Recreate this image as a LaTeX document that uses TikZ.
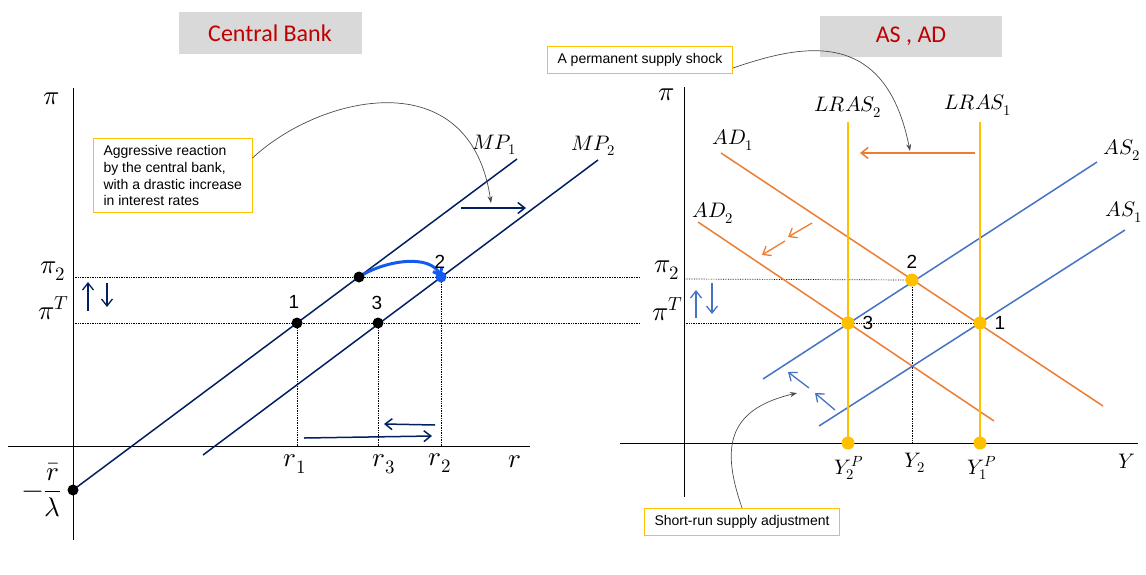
\documentclass[tikz,border=0pt]{standalone}
\usepackage{fontspec}
\usepackage{unicode-math}
\setmainfont{Liberation Sans}
\newfontfamily\titlefont{Carlito}
\usetikzlibrary{arrows.meta}

\definecolor{mpnavy}{RGB}{0,32,96}
\definecolor{movblue}{RGB}{20,90,240}
\definecolor{adorange}{RGB}{237,125,49}
\definecolor{asblue}{RGB}{68,114,196}
\definecolor{lrasgold}{RGB}{255,192,0}
\definecolor{boxgray}{RGB}{217,217,217}
\definecolor{titlered}{RGB}{192,0,0}

\tikzset{
  axis/.style={line width=1pt},
  guide/.style={densely dotted, line width=0.7pt},
  mpline/.style={mpnavy, line width=1.5pt},
  adline/.style={adorange, line width=1.5pt},
  asline/.style={asblue, line width=1.5pt},
  lrasline/.style={lrasgold, line width=1.8pt},
  shiftarrow/.style={line width=1.5pt, -{Straight Barb[length=7pt,width=11pt]}},
  notebox/.style={draw=lrasgold, line width=1pt, fill=white, align=left,
    font=\fontsize{14}{16.7}\selectfont, inner xsep=10pt, inner ysep=7pt},
  titlebox/.style={fill=boxgray, text=titlered, font=\titlefont\fontsize{24}{28}\selectfont},
  mlab/.style={font=\fontsize{21}{25}\selectfont},
  gklab/.style={font=\fontsize{27}{32}\selectfont},
  numlab/.style={font=\fontsize{19}{22}\selectfont},
  pointer/.style={black!70, line width=0.7pt, -{Stealth[length=7pt,width=5pt]}}
}

\begin{document}
\begin{tikzpicture}[x=1pt,y=-1pt]
  \useasboundingbox (0,0) rectangle (1146,574);

  % Central Bank
  \node[titlebox, minimum width=183pt, minimum height=42pt] (cbtitle) at (270,33) {Central Bank};
  \coordinate (cbO) at (73,446);
  \draw[axis] (73,88) -- (73,540);
  \draw[axis] (8,446) -- (530,446);
  \coordinate (mpA) at (73,490);
  \coordinate (mpB) at (517,159);
  \coordinate (mpC) at (203,455);
  \coordinate (mpD) at (598,160);
  \coordinate (cbE) at (359,277);
  \coordinate (cbOne) at (297,323);
  \coordinate (cbThree) at (378,323);
  \coordinate (cbTwo) at (441,277);
  \draw[guide] (73,277) -- (640,277);
  \draw[guide] (73,323) -- (640,323);
  \draw[guide] (cbOne) -- (cbOne |- cbO);
  \draw[guide] (cbThree) -- (cbThree |- cbO);
  \draw[guide] (cbTwo) -- (cbTwo |- cbO);
  \draw[mpline] (mpA) -- (mpB);
  \draw[mpline] (mpC) -- (mpD);
  \node[mlab] (mpone) at (494,145) {$MP_1$};
  \node[mlab] (mptwo) at (593,146) {$MP_2$};
  \coordinate (cbsa) at (461,208);
  \coordinate (cbsb) at (526,208);
  \draw[shiftarrow, mpnavy] (cbsa) -- (cbsb);
  \draw[movblue, line width=3pt, line cap=round, -{Straight Barb[length=6pt,width=10pt]}]
    (cbE) .. controls (385,260) and (430,254) .. (cbTwo);
  \fill (mpA) circle (5.5pt);
  \fill (cbE) circle (5.5pt);
  \fill (cbOne) circle (5.5pt);
  \fill (cbThree) circle (5.5pt);
  \fill[movblue] (cbTwo) circle (5.5pt);
  \node[numlab] (cbnone) at (294,302) {1};
  \node[numlab] (cbnthree) at (377,303) {3};
  \node[numlab] (cbntwo) at (440,262) {2};
  \node[gklab] (cbpi) at (52,99) {$\pi$};
  \node[gklab] (cbpitwo) at (53,271) {$\pi_2$};
  \node[gklab] (cbpit) at (54,308) {$\pi^T$};
  \node[gklab] (cbint) at (42,490) {$\displaystyle -\frac{\bar r}{\lambda}$};
  \draw[shiftarrow, mpnavy, line width=1.3pt] (88,311) -- (88,282);
  \draw[shiftarrow, mpnavy, line width=1.3pt] (107,283) -- (107,307);
  \node[gklab] (rone) at (295,464) {$r_1$};
  \node[gklab] (rthree) at (384,464) {$r_3$};
  \node[gklab] (rtwo) at (440,463) {$r_2$};
  \node[gklab] (rax) at (515,462) {$r$};
  \draw[shiftarrow, mpnavy] (304,438) -- (432,436);
  \draw[shiftarrow, mpnavy] (435,425) -- (384,424);
  \node[notebox, anchor=north west] (cbnote) at (93,138)
    {Aggressive reaction\\by the central bank,\\with a drastic increase\\in interest rates};
  \coordinate (cbaim) at (491,203);
  \draw[pointer] ([yshift=-20pt]cbnote.north east) .. controls (320,95) and (470,60) .. (cbaim);

  % AS, AD
  \node[titlebox, minimum width=182pt, minimum height=41pt] (adtitle) at (911,36) {AS , AD};
  \coordinate (adO) at (684,443);
  \draw[axis] (684,87) -- (684,497);
  \draw[axis] (620,443) -- (1138,443);
  \coordinate (adOne) at (980,323);
  \coordinate (adTwo) at (912,280);
  \coordinate (adThree) at (848,323);
  \draw[guide] (684,279) -- (adTwo);
  \draw[guide] (684,323) -- (adOne);
  \draw[guide] (adTwo) -- (adTwo |- adO);
  \draw[adline] (721,153) -- (1103,406);
  \draw[adline] (698,222) -- (994,421);
  \draw[asline] (763,379) -- (1097,162);
  \draw[asline] (819,426) -- (1125,230);
  \draw[lrasline] (848,122) -- (adThree |- adO);
  \draw[lrasline] (980,122) -- (adOne |- adO);
  \node[mlab] (adone) at (733,140) {$AD_1$};
  \node[mlab] (adtwo) at (713,213) {$AD_2$};
  \node[mlab] (astwo) at (1122,150) {$AS_2$};
  \node[mlab] (asone) at (1124,212) {$AS_1$};
  \node[mlab] (lrastwo) at (848,107) {$LRAS_2$};
  \node[mlab] (lrasone) at (978,105) {$LRAS_1$};
  \coordinate (adsa) at (975,153);
  \coordinate (adsb) at (860,153);
  \draw[shiftarrow, adorange] (adsa) -- (adsb);
  \draw[shiftarrow, adorange, line width=1.3pt] (812,223) -- (788,237);
  \draw[shiftarrow, adorange, line width=1.3pt] (785,241) -- (762,255);
  \draw[shiftarrow, asblue, line width=1.3pt] (809,388) -- (788,372);
  \draw[shiftarrow, asblue, line width=1.3pt] (835,410) -- (815,393);
  \fill[lrasgold] (adOne) circle (6.5pt);
  \fill[lrasgold] (adTwo) circle (6.5pt);
  \fill[lrasgold] (adThree) circle (6.5pt);
  \fill[lrasgold] (adThree |- adO) circle (6.5pt);
  \fill[lrasgold] (adOne |- adO) circle (6.5pt);
  \node[numlab] (adnone) at (1000,323) {1};
  \node[numlab] (adntwo) at (912,262) {2};
  \node[numlab] (adnthree) at (868,323) {3};
  \node[gklab] (adpi) at (667,95) {$\pi$};
  \node[gklab] (adpitwo) at (667,270) {$\pi_2$};
  \node[gklab] (adpit) at (668,309) {$\pi^T$};
  \draw[shiftarrow, asblue, line width=1.3pt] (696,318) -- (696,290);
  \draw[shiftarrow, asblue, line width=1.3pt] (712,283) -- (712,314);
  \node[mlab] (ytwop) at (849,468) {$Y_2^P$};
  \node[mlab] (ytwo) at (915,463) {$Y_2$};
  \node[mlab] (yonep) at (982,468) {$Y_1^P$};
  \node[mlab] (yax) at (1127,461) {$Y$};
  \node[notebox, anchor=north west] (adnote) at (547,46) {A permanent supply shock};
  \coordinate (adaim) at (910,151);
  \draw[pointer] ([yshift=-8pt]adnote.east) .. controls (800,45) and (885,25) .. (adaim);
  \node[notebox, anchor=north west] (srnote) at (644,508) {Short-run supply adjustment};
  \coordinate (sraim) at (797,393);
  \draw[pointer] (srnote.north) .. controls (722,450) and (725,410) .. (sraim);
\end{tikzpicture}
\end{document}
